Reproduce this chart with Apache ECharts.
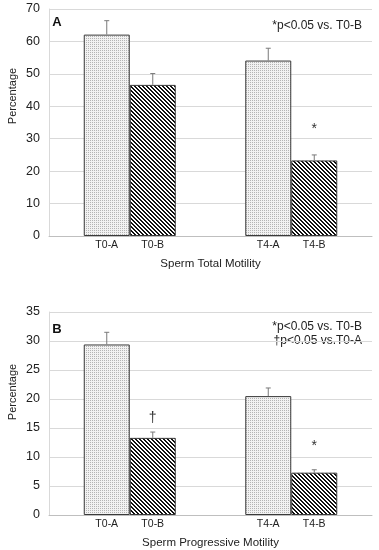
<!DOCTYPE html>
<html>
<head>
<meta charset="utf-8">
<script src="https://cdn.jsdelivr.net/npm/echarts@6/dist/echarts.min.js"></script>
<style>
html,body{margin:0;padding:0;background:#fff;}
#chart{width:379px;height:550px;}
</style>
</head>
<body>
<div id="chart"></div>
<script>
// ---- data ----
var categories = ['T0', 'T4'];
var groups = ['A', 'B'];
// Panel A: Sperm Total Motility (%)
var totalA = [62.1, 54.1];
var totalB = [46.6, 23.3];
var totalAErr = [4.3, 3.8];
var totalBErr = [3.5, 1.7];
// Panel B: Sperm Progressive Motility (%)
var progA = [29.4, 20.5];
var progB = [13.3, 7.3];
var progAErr = [2.1, 1.4];
var progBErr = [1.0, 0.5];
// significance marks: [categoryIndex, groupIndex, value, symbol]
var totalMarks = [[1, 1, 33.0, '*']];
var progMarks = [[0, 1, 16.7, '\u2020'], [1, 1, 11.9, '*']];
// axis ticks
var totalTicks = {min: 0, max: 70, interval: 10};
var progTicks = {min: 0, max: 35, interval: 5};
var panelTitles = ['Sperm Total Motility', 'Sperm Progressive Motility'];
var panelLetters = ['A', 'B'];
var notesA = ['*p<0.05 vs. T0-B'];
var notesB = ['*p<0.05 vs. T0-B', '\u2020p<0.05 vs.T0-A'];

// ---- patterns ----
function makeDots() {
  var c = document.createElement('canvas'); c.width = 2; c.height = 2;
  var g = c.getContext('2d');
  g.fillStyle = '#f2f2f2'; g.fillRect(0, 0, 2, 2);
  g.fillStyle = '#b4b4b4'; g.fillRect(0, 0, 1, 1);
  return c;
}
function makeStripes() {
  var c = document.createElement('canvas'); c.width = 4; c.height = 4;
  var g = c.getContext('2d');
  g.fillStyle = '#ffffff'; g.fillRect(0, 0, 4, 4);
  g.fillStyle = '#111111';
  for (var i = 0; i < 4; i++) {
    g.fillRect(i, i, 1, 1);
    g.fillRect((i + 1) % 4, i, 1, 1);
  }
  return c;
}
var dotPat = {image: makeDots(), repeat: 'repeat'};
var stripePat = {image: makeStripes(), repeat: 'repeat'};
var BAR_W = 46;
var FONT = 'Liberation Sans';

function barSeries(idx, grpIdx, values, pat) {
  return {
    type: 'bar', name: groups[grpIdx], xAxisIndex: idx, yAxisIndex: idx,
    data: values, barWidth: BAR_W, barGap: '0%',
    itemStyle: {color: pat, borderColor: '#3a3a3a', borderWidth: 1},
    label: {show: true, position: 'bottom', distance: 4, color: '#222',
      fontFamily: FONT, fontSize: 10.5,
      formatter: function (p) { return p.name + '-' + p.seriesName; }},
    silent: true, animation: false
  };
}
function errRows(errA, errB, valA, valB) {
  var rows = [];
  for (var i = 0; i < categories.length; i++) {
    rows.push([i, 0, valA[i], valA[i] + errA[i]]);
    rows.push([i, 1, valB[i], valB[i] + errB[i]]);
  }
  return rows;
}
function errSeries(idx, rows) {
  return {
    type: 'custom', xAxisIndex: idx, yAxisIndex: idx, data: rows,
    encode: {x: 0, y: 3}, silent: true, animation: false, z: 5,
    renderItem: function (params, api) {
      var c = api.value(0), g = api.value(1);
      var base = api.coord([c, api.value(2)]);
      var top = api.coord([c, api.value(3)]);
      var x = base[0] + (g === 0 ? -BAR_W / 2 : BAR_W / 2);
      return {type: 'group', children: [
        {type: 'line', shape: {x1: x, y1: base[1], x2: x, y2: top[1]},
          style: {stroke: '#7a7a7a', lineWidth: 1}},
        {type: 'line', shape: {x1: x - 2.5, y1: top[1], x2: x + 2.5, y2: top[1]},
          style: {stroke: '#7a7a7a', lineWidth: 1}}
      ]};
    }
  };
}
function markSeries(idx, marks) {
  return {
    type: 'custom', xAxisIndex: idx, yAxisIndex: idx, data: marks,
    encode: {x: 0, y: 2}, silent: true, animation: false, z: 6,
    renderItem: function (params, api) {
      var c = api.value(0), g = api.value(1);
      var p = api.coord([c, api.value(2)]);
      var x = p[0] + (g === 0 ? -BAR_W / 2 : BAR_W / 2);
      return {type: 'text', x: x, y: p[1],
        style: {text: marks[params.dataIndex][3], fill: '#333',
          font: '14px "' + FONT + '"', align: 'center', verticalAlign: 'middle'}};
    }
  };
}
function yAxisCfg(idx, t) {
  return {type: 'value', gridIndex: idx, min: t.min, max: t.max, interval: t.interval,
    axisLine: {show: true, lineStyle: {color: '#d9d9d9'}}, axisTick: {show: false},
    axisLabel: {color: '#222', fontFamily: FONT, fontSize: 12.5, margin: 9},
    splitLine: {show: true, lineStyle: {color: '#d9d9d9', width: 1}}};
}
function xAxisCfg(idx, name, gap) {
  return {type: 'category', gridIndex: idx, data: categories,
    axisLine: {show: true, lineStyle: {color: '#bfbfbf'}}, axisTick: {show: false},
    axisLabel: {show: false},
    name: name, nameLocation: 'middle', nameGap: gap,
    nameTextStyle: {color: '#222', fontFamily: FONT, fontSize: 11.5}};
}

var chart = echarts.init(document.getElementById('chart'), null, {renderer: 'canvas'});
var graphics = [
  {type: 'text', x: 13, y: 96, rotation: Math.PI / 2,
    style: {text: 'Percentage', font: '11px "' + FONT + '"', fill: '#222', align: 'center', verticalAlign: 'middle'}},
  {type: 'text', x: 13, y: 392, rotation: Math.PI / 2,
    style: {text: 'Percentage', font: '11px "' + FONT + '"', fill: '#222', align: 'center', verticalAlign: 'middle'}},
  {type: 'text', x: 57, y: 22,
    style: {text: panelLetters[0], font: 'bold 13px "' + FONT + '"', fill: '#111', align: 'center', verticalAlign: 'middle'}},
  {type: 'text', x: 57, y: 329,
    style: {text: panelLetters[1], font: 'bold 13px "' + FONT + '"', fill: '#111', align: 'center', verticalAlign: 'middle'}},
  {type: 'text', x: 362, y: 26,
    style: {text: notesA[0], font: '12px "' + FONT + '"', fill: '#222', align: 'right', verticalAlign: 'middle'}},
  {type: 'text', x: 362, y: 327,
    style: {text: notesB[0], font: '12px "' + FONT + '"', fill: '#222', align: 'right', verticalAlign: 'middle'}},
  {type: 'text', x: 362, y: 341,
    style: {text: notesB[1], font: '12px "' + FONT + '"', fill: '#222', align: 'right', verticalAlign: 'middle'}}
];

chart.setOption({
  animation: false,
  backgroundColor: '#fff',
  grid: [
    {left: 49, right: 7, top: 9, height: 227},
    {left: 49, right: 7, top: 312, height: 205}
  ],
  xAxis: [xAxisCfg(0, panelTitles[0], 22), xAxisCfg(1, panelTitles[1], 22)],
  yAxis: [yAxisCfg(0, totalTicks), yAxisCfg(1, progTicks)],
  series: [
    barSeries(0, 0, totalA, dotPat),
    barSeries(0, 1, totalB, stripePat),
    errSeries(0, errRows(totalAErr, totalBErr, totalA, totalB)),
    markSeries(0, totalMarks),
    barSeries(1, 0, progA, dotPat),
    barSeries(1, 1, progB, stripePat),
    errSeries(1, errRows(progAErr, progBErr, progA, progB)),
    markSeries(1, progMarks)
  ],
  graphic: graphics
});
</script>
</body>
</html>
